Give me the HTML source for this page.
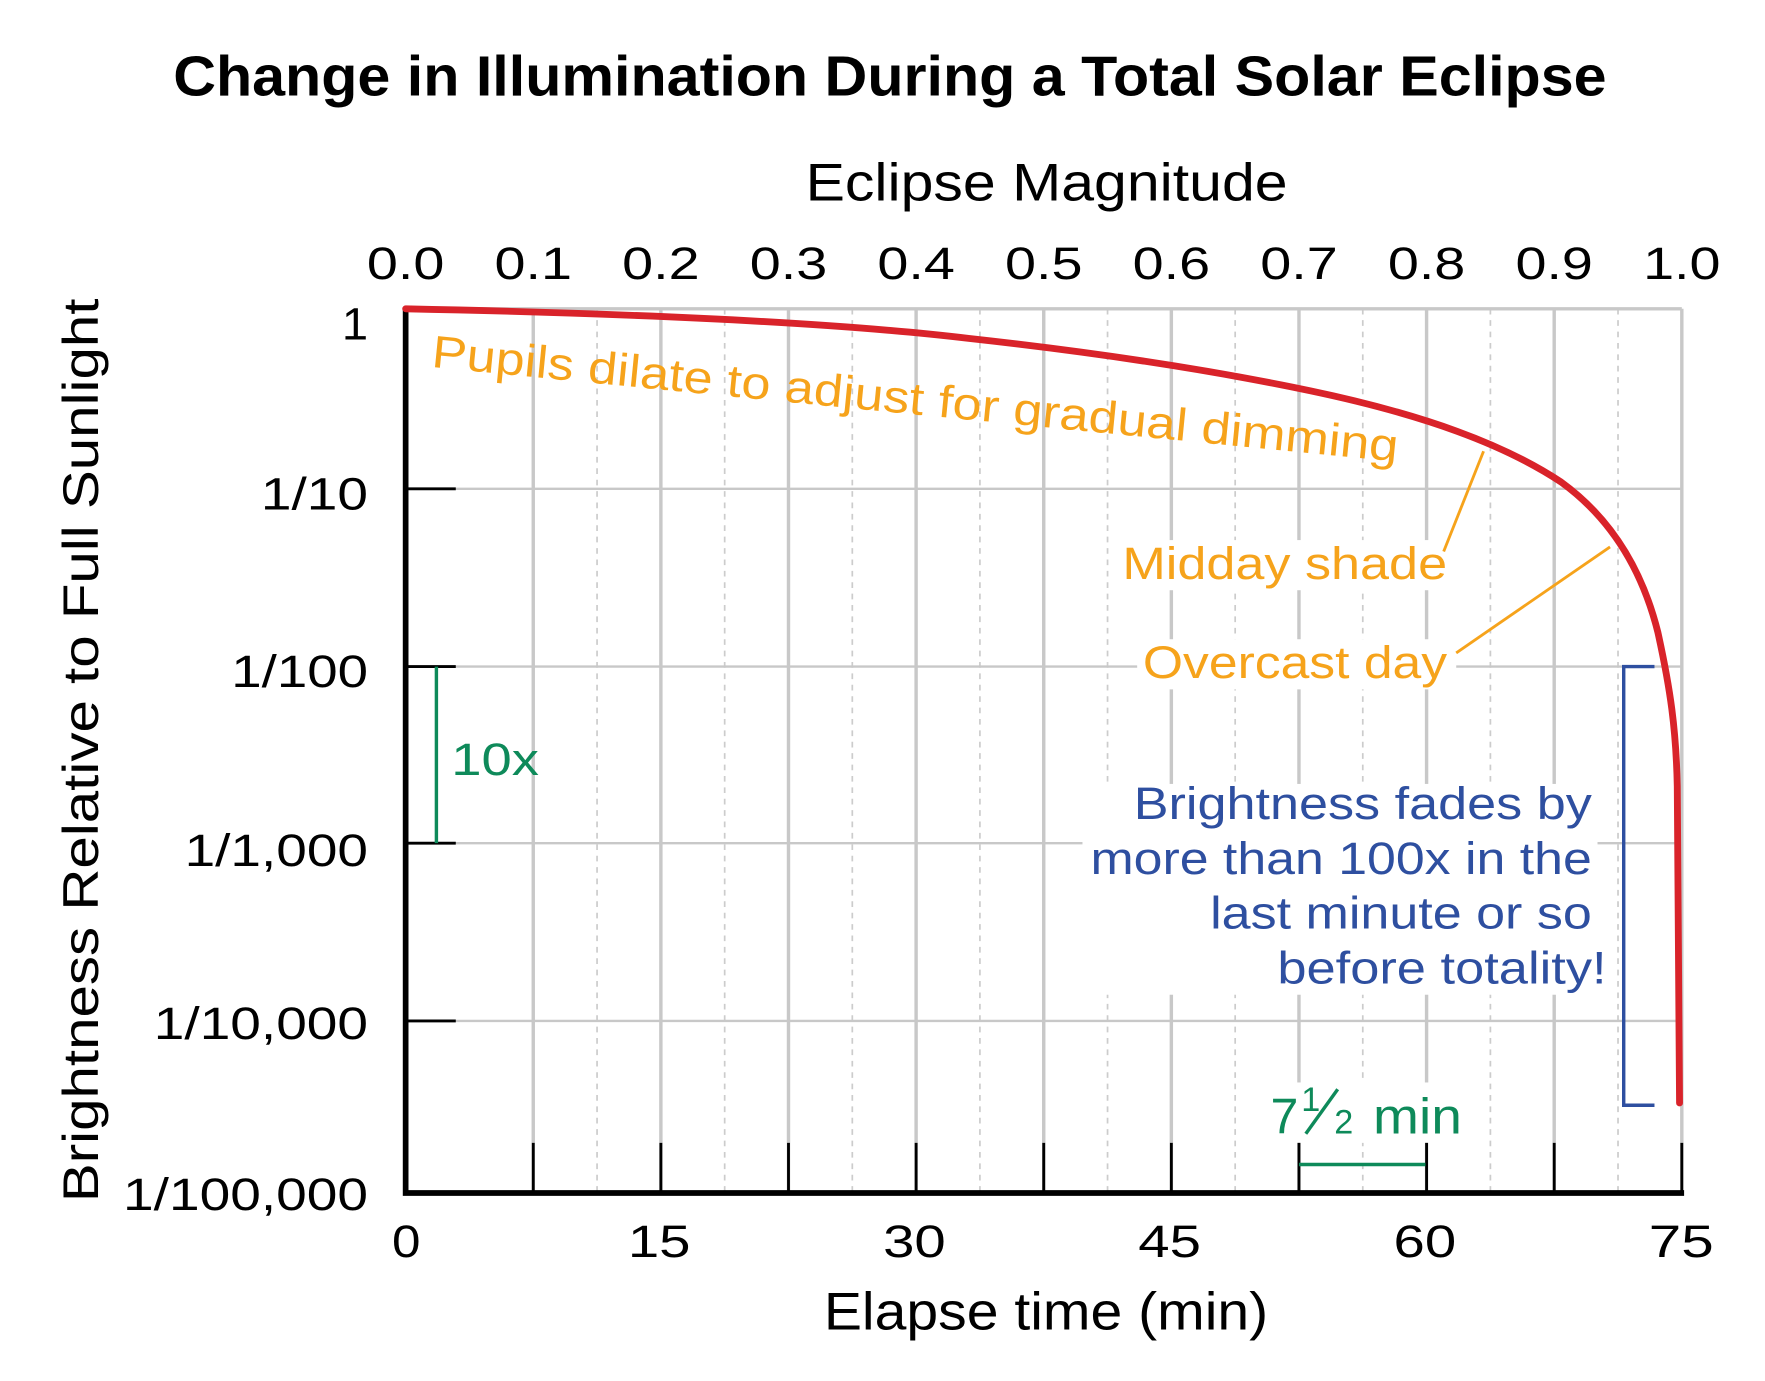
<!DOCTYPE html>
<html><head><meta charset="utf-8"><style>
html,body{margin:0;padding:0;background:#fff}
svg{display:block}
text{font-family:"Liberation Sans",sans-serif}
</style></head><body>
<svg width="1765" height="1381" viewBox="0 0 1549 1212" preserveAspectRatio="none" xmlns="http://www.w3.org/2000/svg">
<rect width="1549" height="1212" fill="#fff"/>
<text x="152" y="84" font-size="50" font-weight="bold" textLength="1258" lengthAdjust="spacingAndGlyphs">Change in Illumination During a Total Solar Eclipse</text>
<text x="707" y="176" font-size="46" textLength="423" lengthAdjust="spacingAndGlyphs">Eclipse Magnitude</text>
<g font-size="40">
<text x="322" y="245" textLength="68" lengthAdjust="spacingAndGlyphs">0.0</text>
<text x="434" y="245" textLength="68" lengthAdjust="spacingAndGlyphs">0.1</text>
<text x="546" y="245" textLength="68" lengthAdjust="spacingAndGlyphs">0.2</text>
<text x="658" y="245" textLength="68" lengthAdjust="spacingAndGlyphs">0.3</text>
<text x="770" y="245" textLength="68" lengthAdjust="spacingAndGlyphs">0.4</text>
<text x="882" y="245" textLength="68" lengthAdjust="spacingAndGlyphs">0.5</text>
<text x="994" y="245" textLength="68" lengthAdjust="spacingAndGlyphs">0.6</text>
<text x="1106" y="245" textLength="68" lengthAdjust="spacingAndGlyphs">0.7</text>
<text x="1218" y="245" textLength="68" lengthAdjust="spacingAndGlyphs">0.8</text>
<text x="1330" y="245" textLength="68" lengthAdjust="spacingAndGlyphs">0.9</text>
<text x="1442" y="245" textLength="68" lengthAdjust="spacingAndGlyphs">1.0</text>
</g>
<g stroke="#ccc" stroke-width="1.5" stroke-dasharray="5,5">
<line x1="524" y1="271" x2="524" y2="1047"/><line x1="636" y1="271" x2="636" y2="1047"/><line x1="748" y1="271" x2="748" y2="1047"/><line x1="860" y1="271" x2="860" y2="1047"/><line x1="972" y1="271" x2="972" y2="1047"/><line x1="1084" y1="271" x2="1084" y2="1047"/><line x1="1196" y1="271" x2="1196" y2="1047"/><line x1="1308" y1="271" x2="1308" y2="1047"/><line x1="1420" y1="271" x2="1420" y2="1047"/>
</g>
<g stroke="#c8c8c8" stroke-width="3">
<line x1="468" y1="271" x2="468" y2="1047"/><line x1="580" y1="271" x2="580" y2="1047"/><line x1="692" y1="271" x2="692" y2="1047"/><line x1="804" y1="271" x2="804" y2="1047"/><line x1="916" y1="271" x2="916" y2="1047"/><line x1="1028" y1="271" x2="1028" y2="1047"/><line x1="1140" y1="271" x2="1140" y2="1047"/><line x1="1252" y1="271" x2="1252" y2="1047"/><line x1="1364" y1="271" x2="1364" y2="1047"/><line x1="1476" y1="271" x2="1476" y2="1047"/>
<line x1="356" y1="271" x2="1476" y2="271"/>
</g>
<g stroke="#c8c8c8" stroke-width="2">
<line x1="356" y1="429" x2="1476" y2="429"/><line x1="356" y1="585" x2="1476" y2="585"/><line x1="356" y1="740" x2="1476" y2="740"/><line x1="356" y1="896" x2="1476" y2="896"/>
</g>
<g fill="#fff">
<rect x="980" y="474" width="294" height="44"/>
<rect x="998" y="561" width="280" height="44"/>
<rect x="950" y="688" width="452" height="185"/>
<rect x="1110" y="950" width="178" height="53"/>
</g>
<g stroke="#000" stroke-width="2.5">
<line x1="356" y1="429" x2="400" y2="429"/><line x1="356" y1="585" x2="400" y2="585"/><line x1="356" y1="740" x2="400" y2="740"/><line x1="356" y1="896" x2="400" y2="896"/><line x1="356" y1="271" x2="400" y2="271"/>
<line x1="468" y1="1003" x2="468" y2="1047"/><line x1="580" y1="1003" x2="580" y2="1047"/><line x1="692" y1="1003" x2="692" y2="1047"/><line x1="804" y1="1003" x2="804" y2="1047"/><line x1="916" y1="1003" x2="916" y2="1047"/><line x1="1028" y1="1003" x2="1028" y2="1047"/><line x1="1140" y1="1003" x2="1140" y2="1047"/><line x1="1252" y1="1003" x2="1252" y2="1047"/><line x1="1364" y1="1003" x2="1364" y2="1047"/><line x1="1476" y1="1003" x2="1476" y2="1047"/>
</g>
<path d="M356 271 V1047 H1478" fill="none" stroke="#000" stroke-width="5"/>
<g font-size="40">
<text x="300" y="298" textLength="23" lengthAdjust="spacingAndGlyphs">1</text>
<text x="229" y="447" textLength="94" lengthAdjust="spacingAndGlyphs">1/10</text>
<text x="203" y="603" textLength="120" lengthAdjust="spacingAndGlyphs">1/100</text>
<text x="162" y="760" textLength="161" lengthAdjust="spacingAndGlyphs">1/1,000</text>
<text x="135" y="912" textLength="188" lengthAdjust="spacingAndGlyphs">1/10,000</text>
<text x="108" y="1062" textLength="215" lengthAdjust="spacingAndGlyphs">1/100,000</text>
</g>
<text transform="translate(86,1055) rotate(-90)" font-size="44" textLength="793" lengthAdjust="spacingAndGlyphs">Brightness Relative to Full Sunlight</text>
<g font-size="40">
<text x="344" y="1103" textLength="25" lengthAdjust="spacingAndGlyphs">0</text>
<text x="551" y="1103" textLength="55" lengthAdjust="spacingAndGlyphs">15</text>
<text x="775" y="1103" textLength="55" lengthAdjust="spacingAndGlyphs">30</text>
<text x="999" y="1103" textLength="55" lengthAdjust="spacingAndGlyphs">45</text>
<text x="1223" y="1103" textLength="55" lengthAdjust="spacingAndGlyphs">60</text>
<text x="1447" y="1103" textLength="57" lengthAdjust="spacingAndGlyphs">75</text>
</g>
<text x="723" y="1167" font-size="46" textLength="390" lengthAdjust="spacingAndGlyphs">Elapse time (min)</text>
<path d="M356 271 C600 276 750 285 850 297 C950 308 1050 322 1150 343 C1250 364 1320 390 1370 423 C1410 452 1440 495 1455 555 C1466 605 1471 640 1472 690 L1474 968" fill="none" stroke="#d9232a" stroke-width="6" stroke-linecap="round"/>
<g fill="#f6a31b" font-size="40">
<text transform="translate(378,322) rotate(5.6)" textLength="852" lengthAdjust="spacingAndGlyphs">Pupils dilate to adjust for gradual dimming</text>
<text x="985" y="508" textLength="285" lengthAdjust="spacingAndGlyphs">Midday shade</text>
<text x="1003" y="595" textLength="267" lengthAdjust="spacingAndGlyphs">Overcast day</text>
</g>
<g stroke="#f6a31b" stroke-width="2.5">
<line x1="1267" y1="484" x2="1302" y2="396"/>
<line x1="1278" y1="573" x2="1413" y2="480"/>
</g>
<line x1="383" y1="585" x2="383" y2="740" stroke="#0e8a5a" stroke-width="3"/>
<text x="396" y="680" font-size="40" fill="#0e8a5a" textLength="77" lengthAdjust="spacingAndGlyphs">10x</text>
<line x1="1140" y1="1022" x2="1251" y2="1022" stroke="#0e8a5a" stroke-width="3"/>
<g fill="#0e8a5a">
<text x="1115" y="995" font-size="44">7</text>
<text x="1142" y="975" font-size="30">1</text>
<text x="1171" y="995" font-size="30">2</text>
<text x="1205" y="995" font-size="44" textLength="78" lengthAdjust="spacingAndGlyphs">min</text>
</g>
<line x1="1146" y1="995" x2="1174" y2="956" stroke="#0e8a5a" stroke-width="3"/>
<g fill="#2e4fa0" font-size="40">
<text x="995" y="719" textLength="402" lengthAdjust="spacingAndGlyphs">Brightness fades by</text>
<text x="957" y="767" textLength="440" lengthAdjust="spacingAndGlyphs">more than 100x in the</text>
<text x="1062" y="815" textLength="335" lengthAdjust="spacingAndGlyphs">last minute or so</text>
<text x="1121" y="863" textLength="289" lengthAdjust="spacingAndGlyphs">before totality!</text>
</g>
<path d="M1452 585 H1425 V970 H1452" fill="none" stroke="#2e4fa0" stroke-width="3"/>
</svg>
</body></html>
